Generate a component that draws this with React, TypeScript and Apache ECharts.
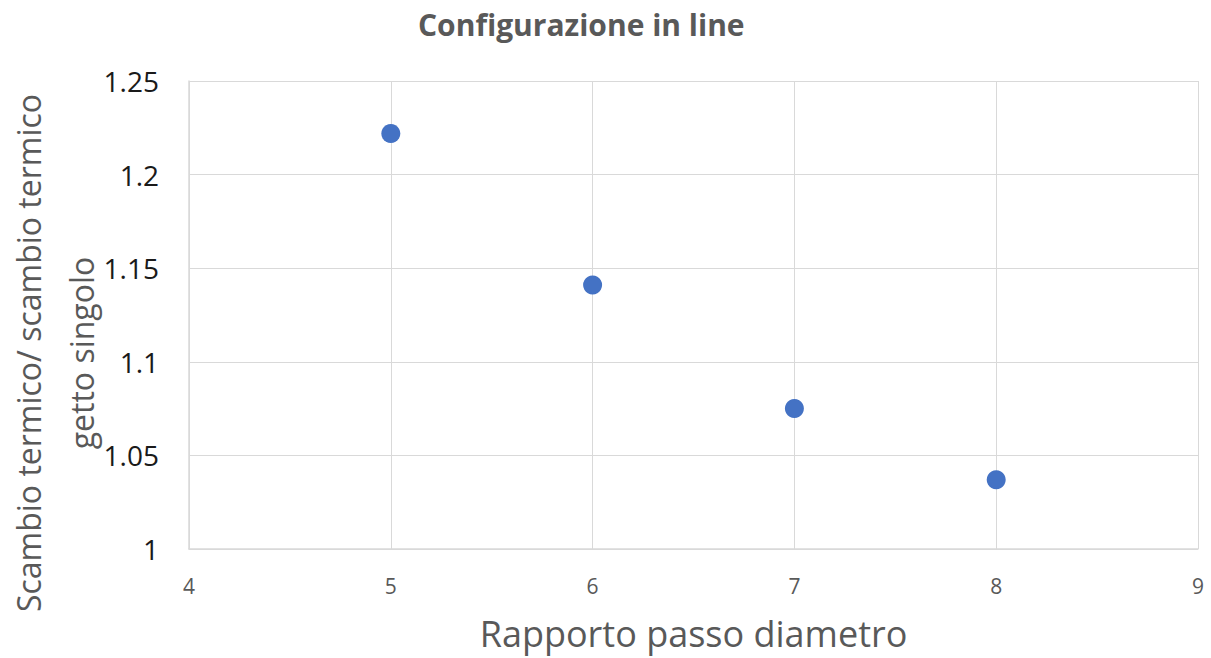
import React, { useEffect, useRef } from "react";
import * as echarts from "echarts";

const xValues = [5, 6, 7, 8];
const yValues = [1.222, 1.141, 1.075, 1.037];
const titleText = "Configurazione in line";
const xAxisName = "Rapporto passo diametro";
const yAxisName = "Scambio termico/ scambio termico\ngetto singolo";

export default function App() {
  const ref = useRef<HTMLDivElement>(null);
  useEffect(() => {
    const chart = echarts.init(ref.current!, null, { renderer: "svg" });
    const font = "Open Sans, Liberation Sans, sans-serif";
    chart.setOption({
      animation: false,
      backgroundColor: "#ffffff",
      title: {
        text: titleText,
        left: 413,
        top: 4,
        textStyle: { fontFamily: font, fontSize: 30, fontWeight: "bold", color: "#595959" },
      },
      grid: { left: 189, right: 13, top: 81, bottom: 109, containLabel: false, outerBoundsMode: "none" },
      graphic: [
        {
          type: "text",
          x: 55,
          y: 353,
          rotation: Math.PI / 2,
          style: {
            text: yAxisName,
            fontFamily: font,
            fontSize: 32,
            lineHeight: 53,
            fill: "#595959",
            align: "center",
            verticalAlign: "middle",
          },
        },
      ],
      xAxis: {
        type: "value",
        min: 4,
        max: 9,
        interval: 1,
        name: xAxisName,
        nameLocation: "middle",
        nameGap: 66,
        nameTextStyle: { fontFamily: font, fontSize: 36, color: "#595959" },
        axisLine: { show: true, lineStyle: { color: "#d9d9d9", width: 1.5 } },
        axisTick: { show: false },
        axisLabel: { margin: 26, fontFamily: font, fontSize: 21, color: "#595959" },
        splitLine: { show: true, lineStyle: { color: "#d9d9d9", width: 1 } },
      },
      yAxis: {
        type: "value",
        min: 1,
        max: 1.25,
        interval: 0.05,
        axisLine: { show: true, lineStyle: { color: "#d9d9d9", width: 1.5 } },
        axisTick: { show: false },
        axisLabel: {
          margin: 30,
          fontFamily: font,
          fontSize: 28,
          color: "#1a1a1a",
          formatter: (v: number) => String(parseFloat(v.toFixed(2))),
        },
        splitLine: { show: true, lineStyle: { color: "#d9d9d9", width: 1 } },
      },
      series: [
        {
          type: "scatter",
          data: xValues.map((x, i) => [x, yValues[i]]),
          symbol: "circle",
          symbolSize: 19,
          itemStyle: { color: "#4472C4", opacity: 1 },
        },
      ],
    });
    return () => chart.dispose();
  }, []);
  return <div ref={ref} style={{ position: "fixed", left: 0, top: 0, width: 1211, height: 658 }} />;
}
